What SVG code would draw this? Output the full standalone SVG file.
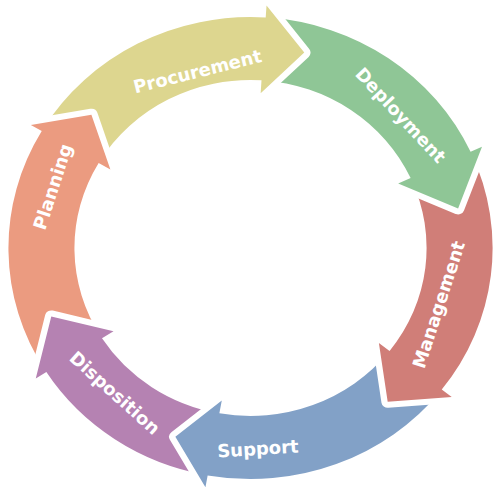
<svg xmlns="http://www.w3.org/2000/svg" width="501" height="490" viewBox="0 0 501 490">
<style>
.arrow{stroke:#fff;stroke-width:12;stroke-linejoin:round;paint-order:stroke}
.lbl{font-family:"DejaVu Sans","Liberation Sans",sans-serif;font-weight:bold;font-size:18px;fill:#fff;text-anchor:middle}
</style>
<defs>
<mask id="mp" maskUnits="userSpaceOnUse" x="-300" y="-300" width="600" height="600">
<rect x="-300" y="-300" width="600" height="600" fill="#fff"/>
<path d="M-209.6,-123 L-151.8,-133.3 L-133.7,-78.4 Z" fill="#000" stroke="#000" stroke-width="12" stroke-linejoin="round"/>
</mask>
</defs>
<rect width="501" height="490" fill="#fff"/>
<g id="planning">
<path class="arrow" fill="#EB9B80" transform="translate(250.5,248) scale(1.048,1)" d="M-195.9,122.4 A231,231 0 0 1 -199.2,-116.9 L-209.6,-123.0 L-151.8,-133.3 L-133.7,-78.4 L-144.9,-85.0 A168,168 0 0 0 -142.5,89.0 Z"/>
<text class="lbl" transform="translate(58.8,188.6) rotate(-72)">Planning</text>
</g>
<g id="disposition">
<path class="arrow" fill="#B582B2" transform="translate(250.5,248) scale(1.048,1)" d="M-42.9,227.0 A231,231 0 0 1 -194.8,124.1 L-204.9,130.6 L-190.1,68.4 L-130.7,83.3 L-141.7,90.3 A168,168 0 0 0 -31.2,165.1 Z"/>
<text class="lbl" transform="translate(110.6,397.7) rotate(42)">Disposition</text>
</g>
<g id="support">
<path class="arrow" fill="#82A1C7" transform="translate(250.5,248) scale(1.048,1)" d="M181.3,143.2 A231,231 0 0 1 -40.9,227.4 L-43.0,239.2 L-71.7,188.8 L-27.4,152.6 L-29.7,165.3 A168,168 0 0 0 131.8,104.1 Z"/>
<text class="lbl" transform="translate(258.3,455) rotate(-3.5)">Support</text>
</g>
<g id="management">
<path class="arrow" fill="#D07E78" transform="translate(250.5,248) scale(1.048,1)" d="M210.9,-94.3 A231,231 0 0 1 182.5,141.6 L192.0,148.9 L130.9,153.8 L122.5,95.0 L132.7,103.0 A168,168 0 0 0 153.4,-68.6 Z"/>
<text class="lbl" transform="translate(444.8,306.5) rotate(-72)">Management</text>
</g>
<g id="deployment">
<path class="arrow" fill="#8FC696" transform="translate(250.5,248) scale(1.048,1)" d="M16.5,-230.4 A231,231 0 0 1 210.0,-96.2 L220.9,-101.2 L198.1,-39.6 L140.9,-64.5 L152.8,-69.9 A168,168 0 0 0 12.0,-167.6 Z"/>
<text class="lbl" transform="translate(396,119.5) rotate(47)">Deployment</text>
</g>
<g id="procurement">
<path class="arrow" fill="#DDD68F" mask="url(#mp)" transform="translate(250.5,248) scale(1.048,1)" d="M-198.2,-118.6 A231,231 0 0 1 14.5,-230.5 L15.3,-242.5 L51.3,-195.4 L9.7,-154.7 L10.5,-167.7 A168,168 0 0 0 -144.2,-86.3 Z"/>
<text class="lbl" transform="translate(199,77.5) rotate(-14)">Procurement</text>
</g>
<g id="connectors"/>
</svg>
